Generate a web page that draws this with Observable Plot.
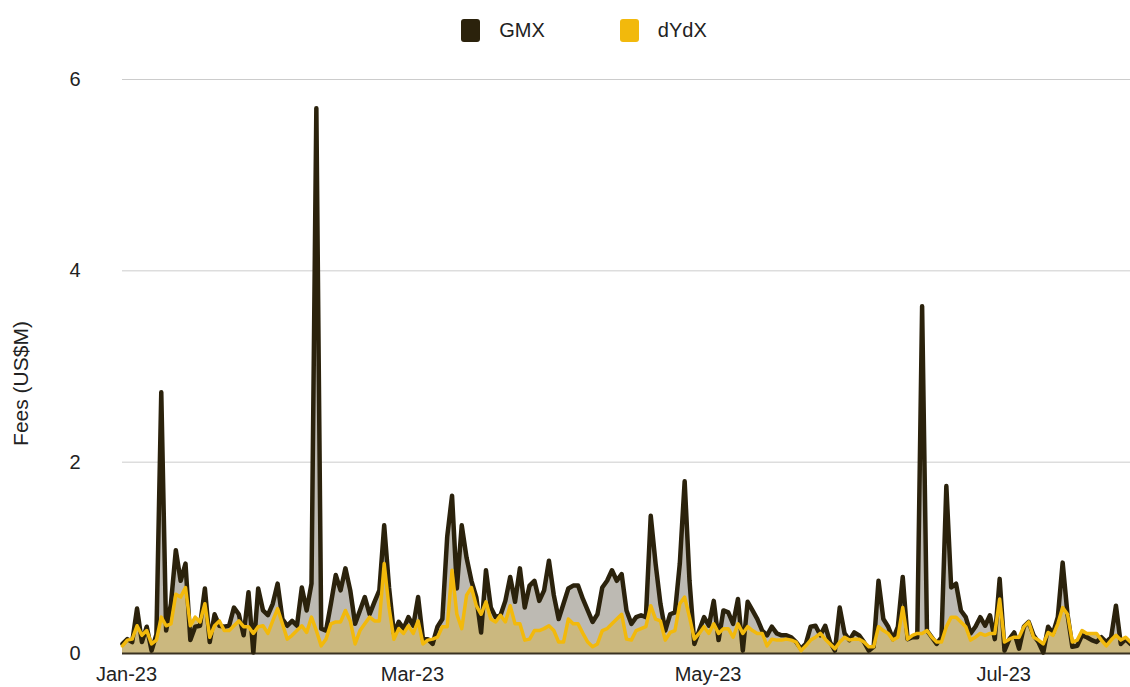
<!DOCTYPE html>
<html><head><meta charset="utf-8">
<script src="https://cdn.jsdelivr.net/npm/d3@7"></script>
<script src="https://cdn.jsdelivr.net/npm/@observablehq/plot@0.6"></script>
<style>
body{margin:0;background:#fff;font-family:"Liberation Sans",Arial,sans-serif;}
#legend{height:60px;display:flex;justify-content:center;align-items:center;gap:75px;padding-left:38px;box-sizing:border-box;font-size:20px;color:#222}
.item{display:flex;align-items:center;gap:19px}
.sw{width:19px;height:23px;border-radius:3px}
</style></head><body>
<div id="legend"></div><div id="chart"></div>
<script>
const startDate = "2023-01-01";
const seriesNames = ["GMX", "dYdX"];
const seriesColors = ["#2b220c", "#f2b90c"];
const tickLabelsY = [0, 2, 4, 6];
const yTitle = "Fees (US$M)";
const gmx = [0.10,0.15,0.12,0.47,0.12,0.28,0.03,0.20,2.73,0.24,0.52,1.08,0.76,0.94,0.14,0.28,0.29,0.68,0.12,0.41,
0.29,0.28,0.29,0.48,0.41,0.19,0.64,0.01,0.68,0.45,0.40,0.52,0.73,0.36,0.29,0.34,0.29,0.69,0.45,0.73,
5.70,0.26,0.24,0.52,0.82,0.66,0.89,0.66,0.31,0.45,0.59,0.41,0.54,0.66,1.34,0.69,0.21,0.33,0.26,0.38,
0.29,0.59,0.15,0.15,0.10,0.28,0.36,1.22,1.65,0.68,1.34,1.00,0.76,0.59,0.22,0.87,0.48,0.38,0.40,0.55,
0.80,0.54,0.89,0.48,0.71,0.76,0.55,0.66,0.97,0.61,0.36,0.52,0.68,0.71,0.71,0.57,0.45,0.33,0.41,0.69,
0.76,0.87,0.76,0.83,0.45,0.31,0.38,0.40,0.38,1.44,0.94,0.52,0.24,0.41,0.43,0.94,1.80,0.76,0.10,0.24,
0.38,0.29,0.55,0.14,0.45,0.43,0.31,0.57,0.03,0.54,0.45,0.36,0.24,0.19,0.28,0.21,0.19,0.19,0.17,0.12,
0.05,0.10,0.28,0.29,0.19,0.29,0.12,0.03,0.48,0.21,0.14,0.22,0.19,0.12,0.03,0.07,0.76,0.36,0.28,0.15,
0.28,0.80,0.15,0.17,0.17,3.63,0.24,0.17,0.10,0.17,1.75,0.69,0.73,0.45,0.38,0.21,0.28,0.38,0.29,0.40,
0.15,0.78,0.03,0.15,0.22,0.05,0.28,0.33,0.19,0.12,0.01,0.28,0.21,0.38,0.95,0.41,0.07,0.08,0.19,0.17,
0.14,0.12,0.17,0.12,0.17,0.50,0.10,0.15,0.10];
const dydx = [0.08,0.14,0.15,0.29,0.19,0.24,0.10,0.14,0.38,0.29,0.31,0.62,0.59,0.69,0.29,0.38,0.33,0.52,0.17,0.29,
0.34,0.24,0.24,0.29,0.34,0.28,0.28,0.21,0.28,0.29,0.21,0.34,0.47,0.31,0.15,0.19,0.24,0.29,0.22,0.38,
0.24,0.08,0.15,0.31,0.33,0.33,0.45,0.34,0.10,0.24,0.31,0.38,0.34,0.34,0.94,0.48,0.15,0.26,0.21,0.29,
0.21,0.34,0.10,0.14,0.15,0.17,0.28,0.28,0.87,0.41,0.26,0.61,0.69,0.50,0.41,0.54,0.36,0.33,0.40,0.33,
0.50,0.31,0.31,0.14,0.15,0.24,0.24,0.26,0.29,0.24,0.12,0.12,0.36,0.31,0.31,0.21,0.12,0.07,0.10,0.24,
0.26,0.31,0.36,0.41,0.15,0.14,0.24,0.26,0.28,0.50,0.36,0.34,0.14,0.22,0.24,0.52,0.59,0.38,0.15,0.21,
0.28,0.21,0.31,0.21,0.26,0.26,0.17,0.31,0.21,0.28,0.24,0.21,0.21,0.08,0.15,0.14,0.14,0.15,0.14,0.12,
0.03,0.08,0.14,0.17,0.21,0.15,0.10,0.05,0.12,0.17,0.14,0.15,0.15,0.12,0.07,0.07,0.28,0.24,0.21,0.14,
0.17,0.48,0.15,0.19,0.21,0.21,0.24,0.17,0.12,0.12,0.28,0.38,0.38,0.33,0.28,0.14,0.17,0.21,0.19,0.21,
0.21,0.57,0.12,0.15,0.17,0.17,0.28,0.33,0.17,0.14,0.10,0.22,0.19,0.31,0.48,0.41,0.12,0.14,0.24,0.21,
0.21,0.21,0.14,0.08,0.14,0.19,0.14,0.17,0.12];

const start = new Date(startDate + "T00:00:00Z");
const data = gmx.map((g, i) => ({date: d3.utcDay.offset(start, i), gmx: g, dydx: dydx[i]}));
const end = data[data.length - 1].date;

// legend
const legend = document.getElementById("legend");
seriesNames.forEach((n, i) => {
  const it = document.createElement("div"); it.className = "item";
  const sw = document.createElement("div"); sw.className = "sw"; sw.style.background = seriesColors[i];
  const tx = document.createElement("span"); tx.textContent = n;
  it.append(sw, tx); legend.append(it);
});

const chart = Plot.plot({
  width: 1130, height: 627,
  marginLeft: 122, marginRight: 0, marginTop: 19, marginBottom: 34,
  style: {fontFamily: "'Liberation Sans', Arial, sans-serif", fontSize: "20px", color: "#222", background: "white"},
  x: {type: "utc", domain: [start, end]},
  y: {domain: [0, 6]},
  marks: [
    Plot.ruleY(tickLabelsY.filter(d => d > 0), {stroke: "#cccccc", strokeWidth: 1}),
    Plot.areaY(data, {x: "date", y: "gmx", fill: "#bdbab3"}),
    Plot.areaY(data, {x: "date", y: "dydx", fill: "#cbb87f"}),
    Plot.ruleY([0], {stroke: "#3a3222", strokeWidth: 2}),
    Plot.lineY(data, {x: "date", y: "gmx", stroke: seriesColors[0], strokeWidth: 4.5}),
    Plot.lineY(data, {x: "date", y: "dydx", stroke: seriesColors[1], strokeWidth: 3.5}),
    Plot.axisY(tickLabelsY, {tickSize: 0, tickPadding: 42, tickFormat: d3.format("d"), label: null, fontSize: 20}),
    Plot.text([yTitle], {text: d => d, frameAnchor: "left", textAnchor: "middle", rotate: -90, dx: -101, dy: 17, fontSize: 21, fill: "#222"}),
    Plot.axisX({ticks: d3.utcMonth.every(2), tickFormat: d3.utcFormat("%b-%y"), tickSize: 0, tickPadding: 13, dx: 4, label: null, fontSize: 20})
  ]
});
document.getElementById("chart").append(chart);
</script>
</body></html>
